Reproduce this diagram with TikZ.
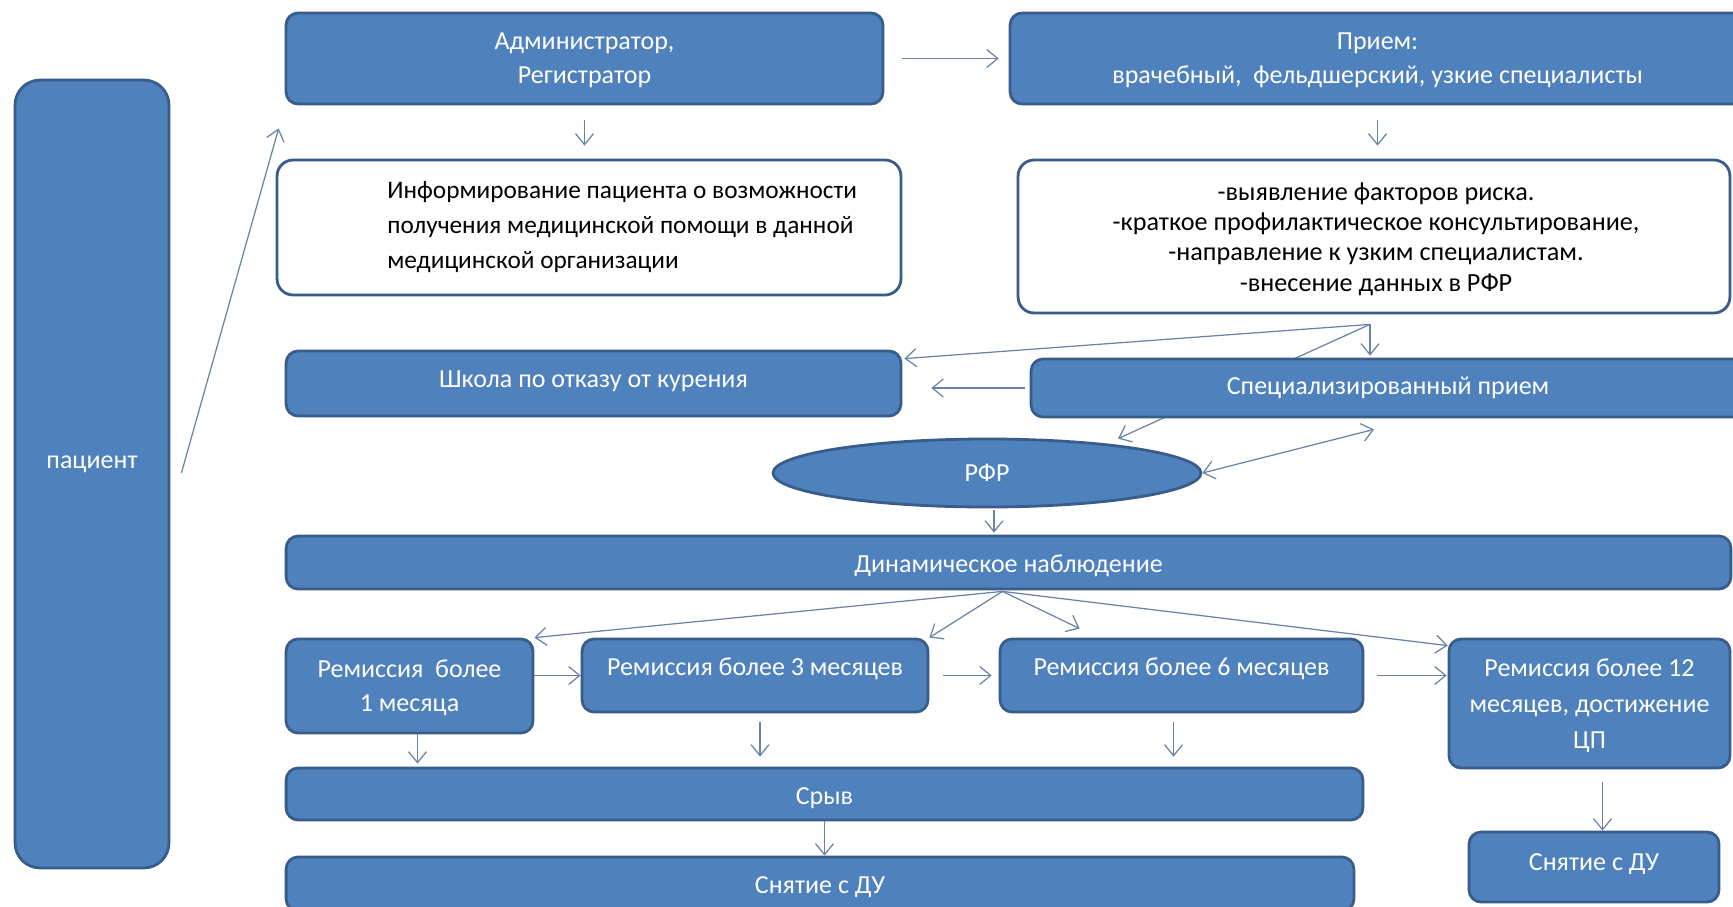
\documentclass[tikz,border=0pt]{standalone}
\usepackage{fontspec}
\setmainfont{Carlito}
\usetikzlibrary{arrows.meta,calc,shapes.geometric}
\definecolor{boxblue}{RGB}{79,129,189}
\definecolor{boxedge}{RGB}{56,93,138}
\definecolor{arrowgray}{RGB}{105,130,168}
\tikzset{
  bbox/.style={draw=boxedge, line width=1.6pt, fill=boxblue, rounded corners=0.24cm,
    text=white, align=center, inner sep=0pt, font=\fontsize{14.8}{19.5}\selectfont},
  wbox/.style={draw=boxedge, line width=1.6pt, fill=white, rounded corners=0.32cm,
    inner sep=0pt},
  btext/.style={text=black, inner sep=0pt},
  arr/.style={draw=arrowgray, line width=0.7pt, -{Straight Barb[length=0.22cm,width=0.36cm]}},
  darr/.style={draw=arrowgray, line width=0.7pt,
    {Straight Barb[length=0.22cm,width=0.36cm]}-{Straight Barb[length=0.22cm,width=0.36cm]}}
}
\begin{document}
\begin{tikzpicture}[x=0.02cm, y=-0.02cm]
    \useasboundingbox (0,0) rectangle (1733,906);
    \fill[white] (0,0) rectangle (1733,906);
    \clip (0,0) rectangle (1733,906);

    %Patient
    \node[bbox, minimum width=3.08cm, minimum height=15.76cm, rounded corners=0.5cm, text depth=0.48cm] (pat) at (92,474) {пациент};
    %Top row
    \node[bbox, minimum width=11.94cm, minimum height=1.82cm, text depth=0cm] (admin) at (584.5,58.5) {Администратор,\\Регистратор};
    \node[bbox, minimum width=14.7cm, minimum height=1.82cm, text depth=0cm] (priem) at (1377.5,58.5) {Прием:\\врачебный,~ фельдшерский, узкие специалисты};
    \node[wbox, minimum width=12.48cm, minimum height=2.7cm] (info) at (589,227.5) {};
    \node[btext, align=left, anchor=west, font=\fontsize{14.4}{20}\selectfont] (infotxt) at (387,227) {Информирование пациента о возможности\\получения медицинской помощи в данной\\медицинской организации};
    \node[wbox, minimum width=14.24cm, minimum height=3.06cm] (risk) at (1374,236.5) {};
    \node[btext, align=center, font=\fontsize{14.9}{17.3}\selectfont] (risktxt) at (1376,239) {-выявление факторов риска.\\-краткое профилактическое консультирование,\\-направление к узким специалистам.\\-внесение данных в РФР};
    %Middle
    \node[bbox, minimum width=12.3cm, minimum height=1.3cm, text depth=0.16cm] (school) at (593.5,383.5) {Школа по отказу от курения};
    \node[bbox, ellipse, minimum width=8.56cm, minimum height=1.36cm] (rfr) at (987,473) {РФР};
    \coordinate (fork) at ($(risk.south)+(-4,10)$);
    \draw[arr] (fork) -- ($(rfr.north)+(131,1)$);
    \node[bbox, minimum width=14.28cm, minimum height=1.16cm] (spec) at (1388,388) {Специализированный прием};
    \node[bbox, minimum width=28.9cm, minimum height=1.06cm, text height=0.47cm] (dyn) at (1008.5,562.5) {Динамическое наблюдение};
    %Remission
    \node[bbox, minimum width=4.94cm, minimum height=1.88cm, text depth=0cm] (rem1) at (409.5,686) {Ремиссия~ более\\1 месяца};
    \node[bbox, minimum width=6.92cm, minimum height=1.46cm, text depth=0.35cm] (rem3) at (755,675.5) {Ремиссия более 3 месяцев};
    \node[bbox, minimum width=7.26cm, minimum height=1.46cm, text depth=0.35cm] (rem6) at (1181.5,675.5) {Ремиссия более 6 месяцев};
    \node[bbox, minimum width=5.62cm, minimum height=2.58cm, font=\fontsize{14.8}{20.5}\selectfont, text depth=0cm] (rem12) at (1589.5,703.5) {Ремиссия более 12\\месяцев, достижение\\ЦП};
    %Bottom
    \node[bbox, minimum width=21.54cm, minimum height=1.04cm, text height=0.5cm] (sryv) at (824.5,794) {Срыв};
    \node[bbox, minimum width=21.36cm, minimum height=1.08cm, text height=0.47cm] (snyat1) at (820,884) {Снятие с ДУ};
    \node[bbox, minimum width=5.0cm, minimum height=1.4cm, text depth=0.2cm] (snyat2) at (1594,867) {Снятие с ДУ};

    %Top arrows
    \draw[arr] ($(pat.east)+(11,-1)$) -- ($(admin.south west)+(-6,23)$);
    \draw[arr, shorten <=0.36cm, shorten >=0.2cm] (admin) -- (priem);
    \draw[arr, shorten <=0.3cm, shorten >=0.26cm] (admin.south) -- (admin.south |- info.north);
    \draw[arr, shorten <=0.3cm, shorten >=0.26cm] (priem.south) -- (priem.south |- risk.north);
    %Fork below risk box
    \draw[arr] (fork) -- ($(school.north east)+(2,9)$);
    \draw[arr, shorten >=0.04cm] (fork) -- (fork |- spec.north);
    \draw[arr, shorten <=0.1cm, shorten >=0.58cm] (spec.west) -- (spec.west -| school.east);
    \draw[darr] (rfr.east) -- ($(spec.south)+(-14,11)$);
    \coordinate (rfrout) at ($(rfr.south)+(7,2)$);
    \draw[arr, shorten >=0.04cm] (rfrout) -- (rfrout |- dyn.north);
    %Fan from dynamic observation
    \coordinate (dynout) at ($(dyn.south)+(-6,1)$);
    \draw[arr] (dynout) -- (rem1.north east);
    \draw[arr] (dynout) -- (rem3.north east);
    \draw[arr] (dynout) -- ($(rem6.north west)+(81,-9)$);
    \draw[arr] (dynout) -- ($(rem12.north west)+(0,8)$);
    %Remission chain
    \draw[arr] (rem1.east |- rem3.west) -- (rem3.west);
    \draw[arr, shorten <=0.28cm, shorten >=0.14cm] (rem3.east) -- (rem6.west);
    \draw[arr, shorten <=0.26cm, shorten >=0.02cm] (rem6.east) -- (rem6.east -| rem12.west);
    %Down to relapse
    \coordinate (r1out) at ($(rem1.south)+(8,0)$);
    \coordinate (r3out) at ($(rem3.south)+(5,9)$);
    \coordinate (r6out) at ($(rem6.south)+(-8,9)$);
    \coordinate (r12out) at ($(rem12.south)+(13,13)$);
    \draw[arr, shorten >=0.06cm] (r1out) -- (r1out |- sryv.north);
    \draw[arr, shorten >=0.2cm] (r3out) -- (r3out |- sryv.north);
    \draw[arr, shorten >=0.2cm] (r6out) -- (r6out |- sryv.north);
    \draw[arr] (sryv.south) -- (sryv.south |- snyat1.north);
    \draw[arr] (r12out) -- (r12out |- snyat2.north);
\end{tikzpicture}
\end{document}
